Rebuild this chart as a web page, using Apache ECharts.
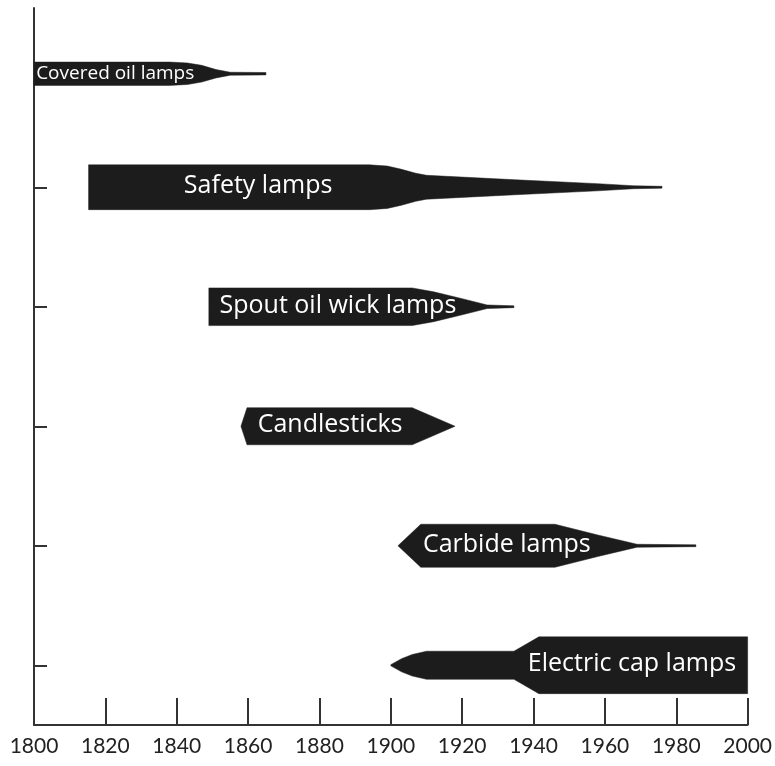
<!DOCTYPE html>
<html>
<head>
<meta charset="utf-8">
<script src="https://cdn.jsdelivr.net/npm/echarts@6/dist/echarts.min.js"></script>
<style>
html,body{margin:0;padding:0;background:#fff;}
#chart{width:775px;height:766px;}
</style>
</head>
<body>
<div id="chart"></div>
<script>
// Lamp types, top to bottom
const categories = ["Covered oil lamps", "Safety lamps", "Spout oil wick lamps", "Candlesticks", "Carbide lamps", "Electric cap lamps"];

// Year ticks
const yearTicks = [1800, 1820, 1840, 1860, 1880, 1900, 1920, 1940, 1960, 1980, 2000];

// Relative prevalence profiles: [year, relative usage (0-100)]
const coveredOil = [[1800, 39], [1838, 39], [1843, 36], [1847, 28], [1851, 14], [1855, 5], [1865, 4]];
const safetyLamps = [[1815.3, 75], [1894, 75], [1899, 71], [1903, 60], [1907, 47], [1910, 40], [1935, 25], [1958, 12], [1968, 5], [1976, 3]];
const spoutWick = [[1849, 63], [1906, 63], [1912, 50], [1920, 27], [1927, 6], [1934.5, 3]];
const candlesticks = [[1858, 0], [1859.7, 62], [1906, 62], [1918, 0]];
const carbide = [[1902, 0], [1908.4, 72], [1946, 72], [1958, 36], [1969, 5], [1985.5, 3]];
const electricCap = [[1900, 2], [1903, 22], [1906, 36], [1910, 47], [1934.5, 47], [1941.5, 95], [2000, 95]];

// Year where each label text begins
const labelYears = [1800.6, 1842, 1852, 1862.7, 1909, 1938.4];

const profiles = [coveredOil, safetyLamps, spoutWick, candlesticks, carbide, electricCap];

const chart = echarts.init(document.getElementById('chart'));

function renderItem(params, api) {
  const i = params.dataIndex;
  const prof = profiles[i];
  const band = api.size([0, 1])[1];
  const k = band * 0.25 / 100;
  // the top row sits slightly below its tick in the original drawing
  const nudge = i === 0 ? band * 0.05 : 0;
  const top = [], bottom = [];
  prof.forEach(function (p) {
    const c = api.coord([p[0], i]);
    const h = p[1] * k;
    top.push([c[0], c[1] + nudge - h]);
    bottom.push([c[0], c[1] + nudge + h]);
  });
  const pts = top.concat(bottom.reverse());
  const lc = api.coord([labelYears[i], i]);
  const small = i === 0;
  return {
    type: 'group',
    children: [
      {
        type: 'polygon',
        shape: { points: pts },
        style: { fill: '#1c1c1c', stroke: '#1c1c1c', lineWidth: 0.5 }
      },
      {
        type: 'text',
        x: lc[0],
        y: lc[1] + nudge + (small ? 0 : -1),
        style: {
          text: categories[i],
          fill: '#ffffff',
          font: (small ? '19px' : '25px') + ' "Open Sans", Lato, sans-serif',
          textAlign: 'left',
          textVerticalAlign: 'middle'
        }
      }
    ]
  };
}

chart.setOption({
  animation: false,
  backgroundColor: '#ffffff',
  grid: { left: 34, right: 20, top: 8, bottom: 41, containLabel: false },
  xAxis: {
    type: 'value',
    min: yearTicks[0],
    max: yearTicks[yearTicks.length - 1],
    interval: 20,
    axisLine: { show: true, lineStyle: { color: '#333', width: 2 } },
    axisTick: { show: true, inside: true, length: 27, lineStyle: { color: '#333', width: 2 } },
    axisLabel: {
      color: '#222', fontSize: 21, fontFamily: 'Lato, "Open Sans", sans-serif', margin: 11,
      showMinLabel: true, showMaxLabel: true,
      formatter: function (v) { return String(v); }
    },
    splitLine: { show: false }
  },
  yAxis: {
    type: 'category',
    data: categories,
    inverse: true,
    boundaryGap: true,
    axisLine: { show: true, lineStyle: { color: '#333', width: 2 } },
    axisTick: { show: true, inside: true, alignWithLabel: true, length: 13, lineStyle: { color: '#333', width: 2 } },
    axisLabel: { show: false },
    splitLine: { show: false }
  },
  series: [{
    type: 'custom',
    renderItem: renderItem,
    clip: false,
    encode: { x: 0, y: 1 },
    data: categories.map(function (c, i) { return [profiles[i][0][0], i]; })
  }]
});
</script>
</body>
</html>
